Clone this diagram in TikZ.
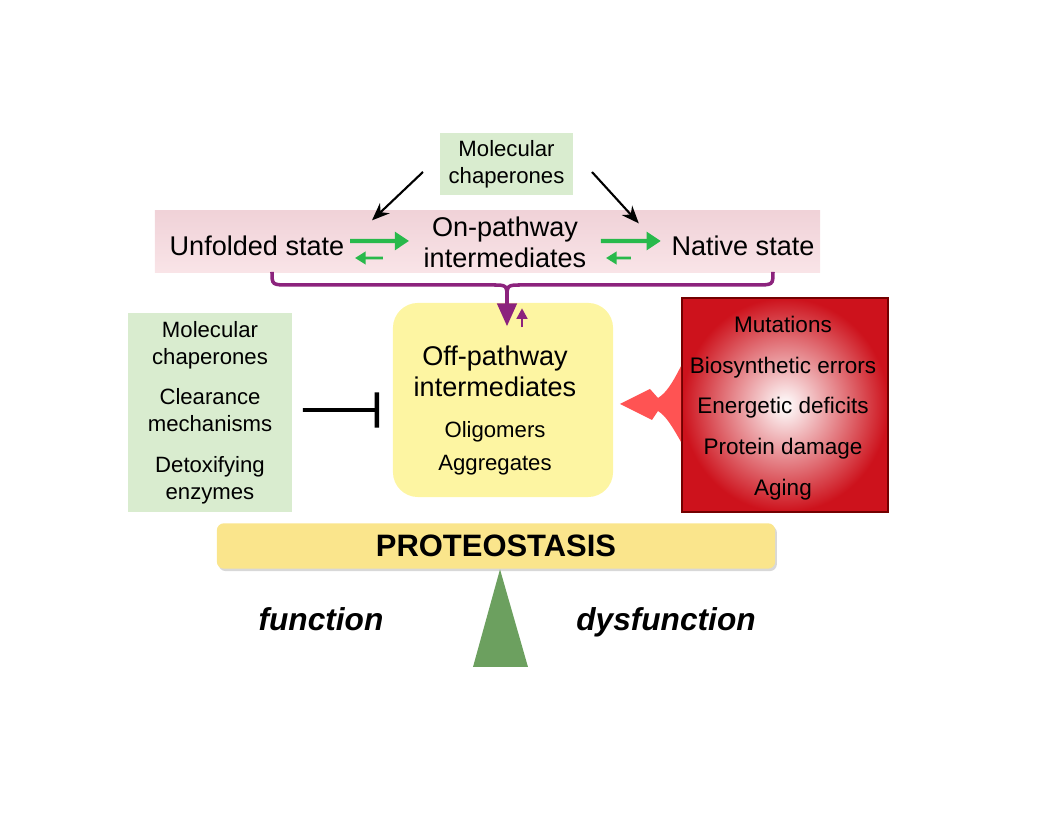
\documentclass[tikz,border=0pt]{standalone}
\usepackage{fontspec}
\setmainfont{Liberation Sans}
\usetikzlibrary{arrows.meta,shadows}
\definecolor{chapgreen}{RGB}{217,236,207}
\definecolor{bandpink}{RGB}{240,210,216}
\definecolor{bandlight}{RGB}{249,228,231}
\definecolor{offyellow}{RGB}{253,245,162}
\definecolor{baryellow}{RGB}{250,229,140}
\definecolor{flowgreen}{RGB}{40,185,75}
\definecolor{bracepurple}{RGB}{140,35,125}
\definecolor{stressred}{RGB}{205,18,28}
\definecolor{pivotgreen}{RGB}{108,160,95}
\tikzset{
  ayuda/.style={fill=chapgreen, align=center, inner sep=0pt, font=\fontsize{6.3}{7.6}\selectfont},
  estado/.style={align=center, inner sep=0pt, font=\fontsize{7.7}{8.8}\selectfont},
  menor/.style={align=center, inner sep=0pt, font=\fontsize{6.3}{9.4}\selectfont},
  flujo/.style={flowgreen, line width=1.2pt, -{Triangle[width=5pt,length=4pt]}},
  reflujo/.style={flowgreen, line width=0.8pt, -{Triangle[width=3.5pt,length=3pt]}},
  guia/.style={black, line width=0.6pt, -{Stealth[width=4pt,length=5pt]}},
  rama/.style={bracepurple, line width=1pt},
  balanza/.style={anchor=base, font=\fontsize{9}{11}\selectfont\bfseries\itshape},
}

\begin{document}
\begin{tikzpicture}[x=0.01cm, y=-0.01cm]
          \useasboundingbox (0,0) rectangle (1056,816);
          \node[top color=bandpink, bottom color=bandlight, minimum width=6.65cm, minimum height=0.61cm] (band) at (487.5,241.5) {};
          \node[ayuda, minimum width=1.33cm, minimum height=0.62cm] (chap) at (506.5,164) {Molecular\\chaperones};
          \node[estado] (unf) at (257,246) {Unfolded state};
          \node[estado] (onp) at (505,242) {On-pathway\\intermediates};
          \node[estado] (nat) at (743,246) {Native state};
          \coordinate (gl) at (423,172);
          \coordinate (gr) at (592,172);
          \draw[guia] (gl) -- ([shift={(27,-15)}]unf.north east);
          \draw[guia] (gr) -- ([shift={(-32,-12)}]nat.north west);
          \draw[flujo] ([xshift=0.05cm,yshift=0.05cm]unf.east) -- ([xshift=-0.14cm,yshift=0.01cm]onp.west);
          \draw[reflujo] ([xshift=-0.4cm,yshift=-0.16cm]onp.west) -- ([xshift=0.1cm,yshift=-0.12cm]unf.east);
          \draw[flujo] ([xshift=0.14cm,yshift=0.01cm]onp.east) -- ([xshift=-0.1cm,yshift=0.05cm]nat.west);
          \draw[reflujo] ([xshift=-0.4cm,yshift=-0.12cm]nat.west) -- ([xshift=0.19cm,yshift=-0.16cm]onp.east);
          \node[fill=offyellow, rounded corners=0.25cm, minimum width=2.2cm, minimum height=1.94cm] (off) at (503,400) {};
          \node[estado] (offt) at (495,371) {Off-pathway\\intermediates};
          \node[menor] (agg) at (495,448) {Oligomers\\Aggregates};
          \coordinate (bl) at (272,272);
          \coordinate (br) at (773,272);
          \coordinate (join) at (507,299);
          \draw[rama] (bl) .. controls (272,285) .. (290,285) -- (492,285) .. controls (507,285) .. (join);
          \draw[rama] (br) .. controls (773,285) .. (755,285) -- (522,285) .. controls (507,285) .. (join);
          \draw[rama, -{Triangle[width=5.5pt,length=6.5pt]}] (join) -- ([xshift=0.04cm,yshift=-0.24cm]off.north);
          \draw[rama, line width=0.8pt, -{Triangle[width=3pt,length=3pt]}] ([xshift=0.19cm,yshift=-0.25cm]off.north) -- ([xshift=0.19cm,yshift=-0.06cm]off.north);
          \node[ayuda, minimum width=1.64cm, minimum height=1.99cm] (lhs) at (210,412.5)
            {Molecular\\chaperones\\[4pt]Clearance\\mechanisms\\[4pt]Detoxifying\\enzymes};
          \draw[line width=1.1pt, -{Bar[width=10pt,line width=1.3pt]}] ([xshift=0.1cm,yshift=0.025cm]lhs.east) -- ([xshift=-0.13cm,yshift=-0.1cm]off.west);
          \node[draw=red!45!black, line width=0.5pt, inner color=white, outer color=stressred, minimum width=2.06cm, minimum height=2.14cm] (rhs) at (785,405) {};
          \fill[red!75, opacity=0.9] (rhs.west |- 0,366) .. controls (672,384) and (666,393) .. (658,398) -- (650,389) -- (620,404) -- (652,420) -- (658,411) .. controls (666,416) and (672,426) .. (rhs.west |- 0,442) -- cycle;
          \node[menor, font=\fontsize{6.4}{11.6}\selectfont] (cause) at (783,408)
            {Mutations\\Biosynthetic errors\\Energetic deficits\\Protein damage\\Aging};
          \node[fill=baryellow, rounded corners=2pt, minimum width=5.58cm, minimum height=0.38cm,
                drop shadow={shadow xshift=0.5pt, shadow yshift=-0.7pt, fill=black!30}, font=\fontsize{8.8}{10}\selectfont\bfseries] (bar) at (496,546) {PROTEOSTASIS};
          \fill[pivotgreen] (bar.south -| 500,0) -- (528,667) -- (473,667) -- cycle;
          \node[balanza] (fun) at (321,631) {function};
          \node[balanza] (dys) at (666,631) {dysfunction};
        \end{tikzpicture}
\end{document}
